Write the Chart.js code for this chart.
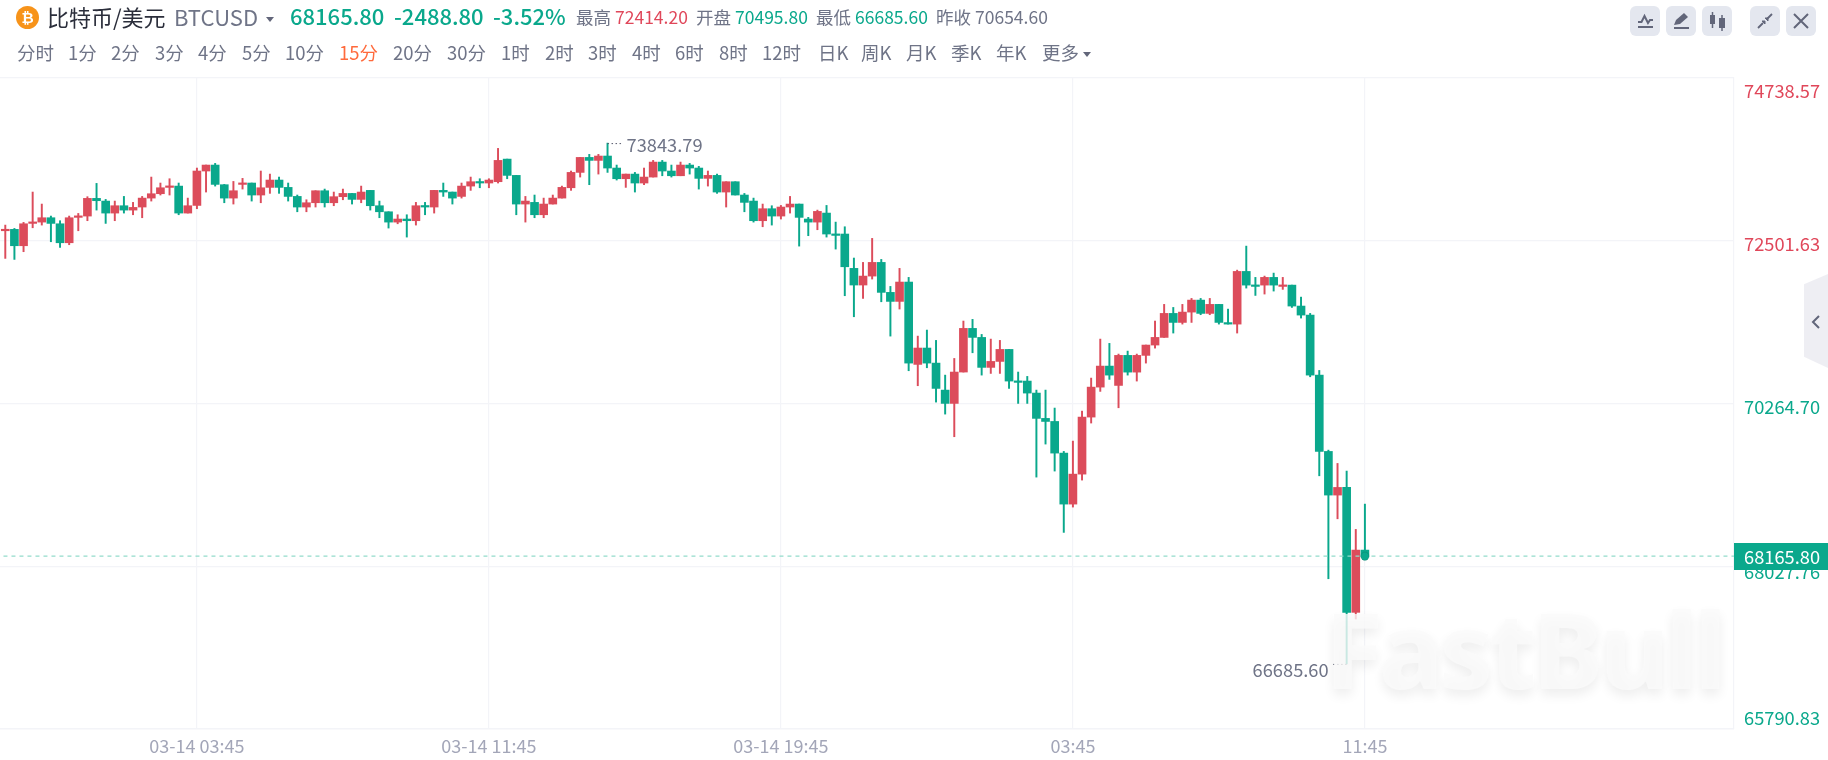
<!DOCTYPE html>
<html>
<head>
<meta charset="utf-8">
<title>BTCUSD</title>
<script src="https://cdn.jsdelivr.net/npm/chart.js@4/dist/chart.umd.min.js"></script>
<style>
  html, body { margin: 0; padding: 0; background: #fff; }
  #page { position: relative; width: 1828px; height: 760px; overflow: hidden; font-family: "Noto Sans CJK SC", "Noto Sans", sans-serif; color: #6f7487; }
  #page span.t { position: absolute; white-space: nowrap; line-height: 1; }
  #chart { position: absolute; left: 0; top: 0; }
  .head { font-size: 17.5px; top: 8px; }
  .big { font-size: 22px; top: 4px; font-weight: 500; color: #0aa88c; }
  .tab { font-size: 18.5px; top: 43px; }
  .up { color: #e0475a; }
  .down { color: #0aa88c; }
  .btn { position: absolute; top: 6px; width: 30px; height: 30px; border-radius: 6px; background: #e4e7ef; }
  .btn svg { display: block; width: 30px; height: 30px; }
  .caret { position: absolute; width: 0; height: 0; border-left: 4.5px solid transparent; border-right: 4.5px solid transparent; border-top: 5px solid #62667a; }
  #logo { position: absolute; left: 16px; top: 6px; width: 23px; height: 23px; border-radius: 50%; background: #f7931a; color: #fff; font: bold 15px/23px "Liberation Sans", sans-serif; text-align: center; }
  #mark { position: absolute; left: 1325px; top: 578px; font: 800 106px/140px "Noto Sans", sans-serif; letter-spacing: -4px; color: rgba(250,250,250,0.8); text-shadow: 0 6px 12px rgba(0,0,0,0.07); pointer-events: none; }
  #side { position: absolute; left: 1804px; top: 274px; width: 24px; height: 94px; background: #eeeef3; clip-path: polygon(100% 0, 100% 100%, 0 88%, 0 11%); }
  #side svg { position: absolute; left: 7px; top: 40px; }
</style>
</head>
<body>
<div id="page">
  <canvas id="chart" width="1828" height="760"></canvas>

  <div id="logo">₿</div>
  <span class="t" style="left:47px;top:5px;font-size:22px;color:#2b2e3b">比特币/美元</span>
  <span class="t" style="left:174px;top:5px;font-size:22px">BTCUSD</span>
  <div class="caret" style="left:266px;top:17px"></div>
  <span class="t big" style="left:290px">68165.80</span>
  <span class="t big" style="left:394px">-2488.80</span>
  <span class="t big" style="left:493px">-3.52%</span>
  <span class="t head" style="left:576px">最高</span>
  <span class="t head up" style="left:615px">72414.20</span>
  <span class="t head" style="left:696px">开盘</span>
  <span class="t head down" style="left:735px">70495.80</span>
  <span class="t head" style="left:816px">最低</span>
  <span class="t head down" style="left:855px">66685.60</span>
  <span class="t head" style="left:936px">昨收</span>
  <span class="t head" style="left:975px">70654.60</span>

  <div id="tabs"></div>
  <div class="caret" style="left:1083px;top:52px"></div>

  <div class="btn" style="left:1630px"><svg viewBox="0 0 30 30"><path d="M8 16l3.5 0 3-6 3.5 7 2-3 3 0" fill="none" stroke="#62667a" stroke-width="2"/><path d="M8 21h15" stroke="#62667a" stroke-width="2"/></svg></div>
  <div class="btn" style="left:1666px"><svg viewBox="0 0 30 30"><path d="M8 19l2-5 8-7 4 4-8 7z" fill="#62667a"/><path d="M8 22h15" stroke="#62667a" stroke-width="2"/></svg></div>
  <div class="btn" style="left:1702px"><svg viewBox="0 0 30 30"><rect x="8" y="9" width="5" height="9" fill="#62667a"/><path d="M10.5 6v16" stroke="#62667a" stroke-width="1.5"/><rect x="17" y="12" width="6" height="10" fill="#62667a"/><path d="M20 9v16" stroke="#62667a" stroke-width="1.5"/></svg></div>
  <div class="btn" style="left:1750px"><svg viewBox="0 0 30 30"><path d="M8 22l5-5M17 13l5-5" stroke="#62667a" stroke-width="1.8"/><path d="M12 15h3v3zM15 12h3v3z" fill="#62667a" stroke="#62667a"/></svg></div>
  <div class="btn" style="left:1786px"><svg viewBox="0 0 30 30"><path d="M8 8l14 14M22 8l-14 14" stroke="#62667a" stroke-width="2"/></svg></div>

  <div id="side"><svg width="10" height="16" viewBox="0 0 10 16"><path d="M8 2l-6 6 6 6" fill="none" stroke="#62667a" stroke-width="2"/></svg></div>
  <div id="mark">FastBull</div>
</div>

<script>
const tabNames = ['分时','1分','2分','3分','4分','5分','10分','15分','20分','30分','1时','2时','3时','4时','6时','8时','12时','日K','周K','月K','季K','年K','更多'];
const tabLeft = [17,68,111,155,198,242,285,339,393,447,501,545,588,632,675,719,762,818,861,906,951,996,1042];

const opens = [
  72639,72658,72433,72740,72758,72818,72735,72474,72823,72841,
  73084,73047,72882,72983,72923,72965,73088,73148,73235,73253,
  72882,72987,73460,73542,73272,73088,73276,73295,73130,73235,
  73336,73235,73111,72965,73024,73189,73024,73107,73152,73070,
  73194,72983,72900,72758,72800,72777,72983,72965,73194,73171,
  73111,73253,73313,73295,73313,73624,73400,73006,73029,72859,
  73006,73088,73230,73441,73647,73606,73666,73501,73354,73418,
  73295,73377,73583,73460,73395,73542,73501,73359,73400,73171,
  73313,73130,73047,72777,72942,72841,72965,73006,72800,72758,
  72882,72594,72594,72122,71893,72016,72204,71792,71668,71934,
  70802,71027,70820,70449,70266,70697,71297,71173,70761,70843,
  71008,70573,70573,70408,70060,70018,69583,68882,69294,70078,
  70490,70779,70513,70926,70696,70926,71068,71173,71503,71379,
  71521,71686,71503,71627,71370,71356,72080,71892,71892,71998,
  71874,71892,71604,71480,70655,69606,69006,69111,67394,68250
];
const closes = [
  72658,72433,72735,72758,72818,72740,72474,72818,72841,73084,
  73052,72882,72983,72923,72960,73088,73148,73230,73253,72882,
  72983,73460,73542,73276,73088,73189,73295,73130,73230,73336,
  73235,73111,72965,73024,73189,73024,73107,73152,73070,73171,
  72983,72900,72758,72800,72777,72983,72965,73194,73171,73088,
  73253,73313,73295,73336,73606,73400,73006,73047,72859,73006,
  73088,73235,73441,73647,73606,73666,73501,73354,73418,73295,
  73377,73583,73460,73395,73542,73501,73359,73400,73171,73313,
  73130,73029,72777,72942,72841,72965,73006,72823,72758,72905,
  72594,72575,72144,71893,72016,72204,71792,71668,71934,70820,
  71027,70820,70472,70266,70697,71297,71173,70761,70843,71008,
  70573,70555,70408,70060,70018,69583,68882,69294,70078,70490,
  70779,70655,70926,70696,70926,71068,71173,71503,71379,71521,
  71686,71503,71627,71379,71356,72080,71892,71874,71998,71892,
  71892,71604,71480,70655,69606,69006,69111,67394,68250,68165.8
];
const highs = [
  72717,72671,72754,73171,73006,72841,72777,72841,72877,73107,
  73290,73070,73047,73111,73029,73111,73377,73295,73354,73295,
  73088,73501,73542,73565,73276,73317,73359,73295,73460,73418,
  73377,73295,73130,73065,73189,73212,73171,73212,73152,73253,
  73194,73047,72900,72859,72859,73029,73029,73194,73295,73171,
  73295,73377,73354,73354,73771,73624,73400,73111,73130,73088,
  73130,73253,73460,73647,73689,73689,73843.79,73542,73418,73441,
  73501,73606,73606,73542,73583,73565,73524,73460,73418,73313,
  73313,73152,73088,73006,72983,72987,73111,73006,72823,72923,
  72987,72758,72694,72264,72204,72534,72245,71874,72122,71998,
  71191,71274,71132,70655,70884,71398,71421,71214,71150,71132,
  71008,70697,70637,70449,70449,70202,69606,69748,70160,70614,
  71150,71091,70944,70985,70944,71068,71398,71627,71585,71627,
  71709,71709,71709,71627,71562,72098,72428,71998,72016,72057,
  71998,71892,71727,71503,70719,69624,69441,69336,68534,68882
];
const lows = [
  72259,72245,72351,72680,72717,72488,72410,72447,72639,72777,
  72923,72740,72777,72882,72859,72818,73047,73130,73130,72859,
  72882,72942,73171,73253,73024,73006,73212,73047,73024,73153,
  73153,73047,72900,72900,72965,72965,72983,73065,73006,73024,
  72923,72818,72676,72735,72552,72717,72859,72882,73111,73006,
  73088,73194,73230,73230,73295,73354,72859,72758,72818,72818,
  73006,73088,73194,73377,73272,73418,73441,73336,73235,73171,
  73272,73377,73395,73377,73395,73418,73212,73253,73153,72965,
  73130,72900,72758,72694,72717,72800,72882,72428,72571,72653,
  72552,72387,71746,71457,71709,71975,71663,71191,71563,70715,
  70509,70756,70284,70119,69808,70697,70962,70655,70678,70678,
  70472,70266,70266,69253,69707,69336,68493,68841,69212,69996,
  70431,70596,70206,70655,70573,70820,71026,71173,71233,71356,
  71379,71485,71485,71356,71356,71233,71851,71750,71769,71810,
  71833,71585,71439,70632,69271,67856,68680,66685.6,67302,68130
];

const priceTicks = [74738.57, 72501.63, 70264.70, 68027.76, 65790.83];
const priceTickNudge = [13, 3, 4, 6, -11];
const timeTickIndex = [21, 53, 85, 117, 149];
const timeTickLabels = ['03-14 03:45', '03-14 11:45', '03-14 19:45', '03:45', '11:45'];

const lastPrice = 68165.80;
const prevClose = 70654.60;
const dayHighIndex = 66;
const dayLowIndex = 147;

const RED = '#dc4c5b';
const GREEN = '#0aa88c';
const GRID = '#f3f4f8';

document.getElementById('tabs').innerHTML = tabNames.map((n, i) =>
  `<span class="t tab" style="left:${tabLeft[i]}px${n === '15分' ? ';color:#ff6a3c' : ''}">${n}</span>`
).join('');

const isUp = i => closes[i] >= opens[i];
const candleColor = ctx => isUp(ctx.dataIndex) ? RED : GREEN;

// text the axis can't place the way the site does: price labels, hi/lo markers, last price tag
const overlayText = {
  id: 'overlayText',
  afterDraw(chart) {
    const { ctx, scales: { x, y } } = chart;
    ctx.save();
    ctx.font = '18.3px "Noto Sans CJK SC"';
    ctx.textBaseline = 'middle';

    priceTicks.forEach((p, i) => {
      ctx.fillStyle = p > prevClose ? '#e0475a' : GREEN;
      ctx.textAlign = 'left';
      ctx.fillText(p.toFixed(2), 1744, y.getPixelForValue(p) + priceTickNudge[i]);
    });

    ctx.fillStyle = GREEN;
    ctx.fillRect(1734, 543, 94, 27);
    ctx.fillStyle = '#fff';
    ctx.fillText(lastPrice.toFixed(2), 1744, y.getPixelForValue(lastPrice) + 0.5);

    // high marker
    const hx = x.getPixelForValue(dayHighIndex), hy = y.getPixelForValue(highs[dayHighIndex]);
    ctx.fillStyle = '#6f7487';
    ctx.textAlign = 'left';
    ctx.fillText(highs[dayHighIndex].toFixed(2), hx + 19, hy + 2);
    // low marker
    const lx = x.getPixelForValue(dayLowIndex), ly = y.getPixelForValue(lows[dayLowIndex]);
    ctx.textAlign = 'right';
    ctx.fillText(lows[dayLowIndex].toFixed(2), lx - 18, ly + 6);

    ctx.strokeStyle = '#55586a';
    ctx.lineWidth = 1;
    ctx.setLineDash([1.5, 2.5]);
    ctx.beginPath();
    ctx.moveTo(hx, hy + 0.5); ctx.lineTo(hx + 16, hy + 0.5);
    ctx.moveTo(lx, ly + 0.5); ctx.lineTo(lx - 16, ly + 0.5);
    ctx.stroke();
    ctx.restore();
  }
};

new Chart(document.getElementById('chart').getContext('2d'), {
  type: 'bar',
  data: {
    datasets: [
      {
        type: 'scatter',
        data: [{ x: 149, y: lastPrice }],
        pointRadius: 4.2,
        backgroundColor: GREEN,
        order: 0
      },
      {
        type: 'line',
        data: [{ x: -0.2, y: lastPrice }, { x: 189.49, y: lastPrice }],
        borderColor: '#93dccb',
        borderWidth: 1.2,
        borderDash: [4, 4],
        pointRadius: 0,
        order: 1
      },
      {
        data: opens.map((o, i) => ({ x: i, y: [o, closes[i]] })),
        backgroundColor: candleColor,
        barThickness: 8,
        minBarLength: 1.5,
        grouped: false,
        order: 2
      },
      {
        data: lows.map((l, i) => ({ x: i, y: [l, highs[i]] })),
        backgroundColor: candleColor,
        barThickness: 1.3,
        grouped: false,
        order: 3
      }
    ]
  },
  options: {
    responsive: false,
    animation: false,
    layout: { padding: { top: 78 }, autoPadding: false },
    plugins: { legend: { display: false }, tooltip: { enabled: false } },
    scales: {
      x: {
        type: 'linear',
        min: -0.58,
        max: 189.45,
        offset: false,
        afterBuildTicks(scale) { scale.ticks = timeTickIndex.map(v => ({ value: v })); },
        afterFit(scale) { scale.height = 31; scale.paddingLeft = 0; scale.paddingRight = 0; },
        grid: { color: GRID, lineWidth: 1.2, drawTicks: false, offset: false },
        border: { color: GRID, width: 1.2 },
        ticks: {
          autoSkip: false,
          maxRotation: 0,
          padding: 6,
          color: '#a3a6b8',
          font: { family: '"Noto Sans CJK SC"', size: 18 },
          callback: v => timeTickLabels[timeTickIndex.indexOf(v)]
        }
      },
      y: {
        position: 'right',
        min: priceTicks[priceTicks.length - 1],
        max: priceTicks[0],
        afterBuildTicks(scale) { scale.ticks = priceTicks.map(v => ({ value: v })); },
        afterFit(scale) { scale.width = 94; },
        grid: { color: GRID, lineWidth: 1.2, drawTicks: false },
        border: { color: GRID, width: 1.2 },
        ticks: { display: false }
      }
    }
  },
  plugins: [overlayText]
});
</script>
</body>
</html>
